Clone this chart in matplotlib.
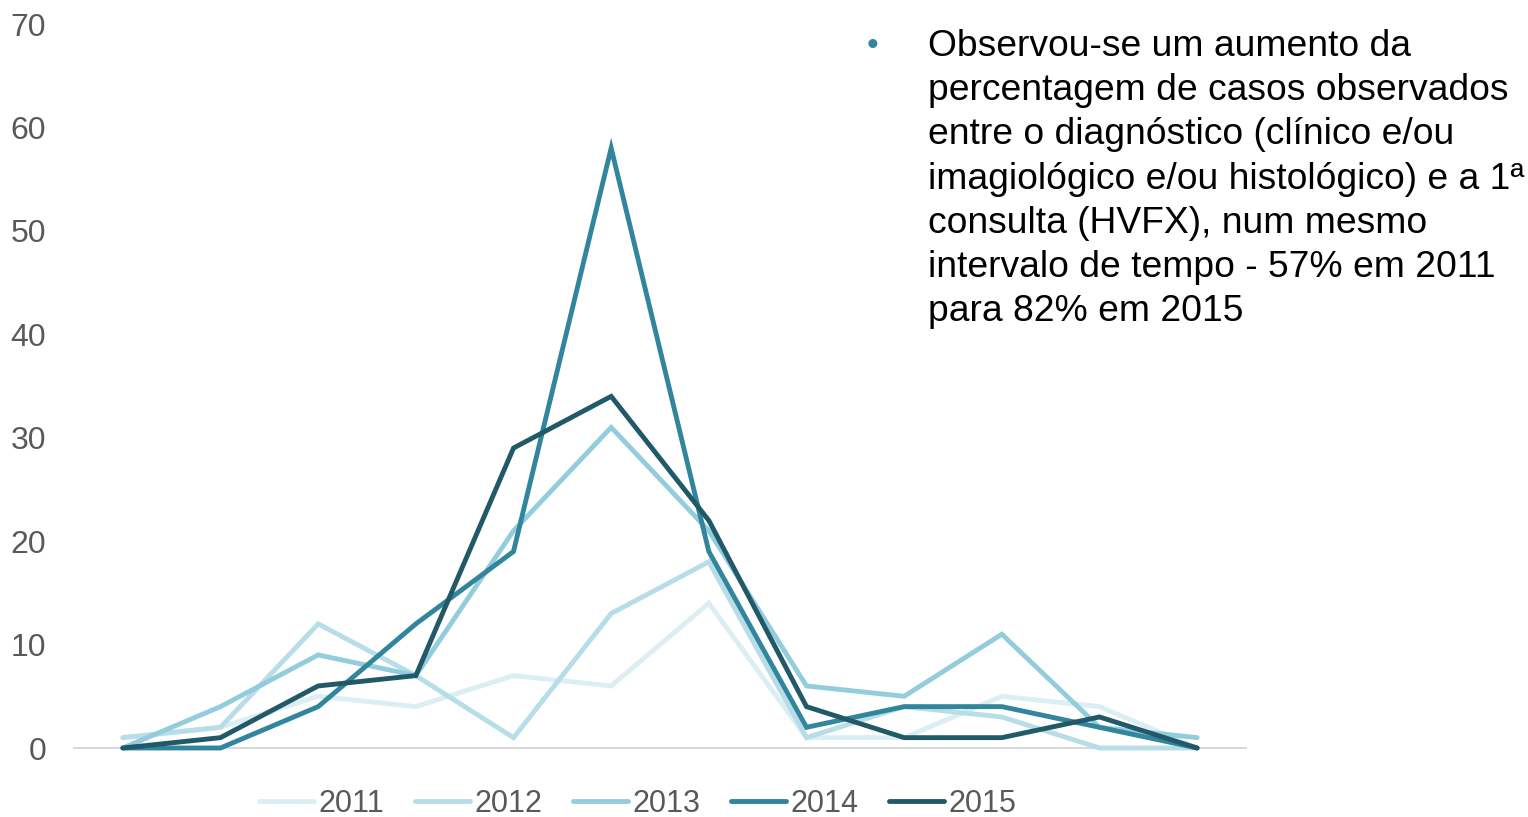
import matplotlib
matplotlib.use("Agg")
import matplotlib.pyplot as plt

categories = list(range(12))
years = ["2011", "2012", "2013", "2014", "2015"]
v2011 = [1, 2, 5, 4, 7, 6, 14, 1, 1, 5, 4, 0]
v2012 = [1, 2, 12, 7, 1, 13, 18, 1, 4, 3, 0, 0]
v2013 = [0, 4, 9, 7, 21, 31, 21, 6, 5, 11, 2, 1]
v2014 = [0, 0, 4, 12, 19, 58, 19, 2, 4, 4, 2, 0]
v2015 = [0, 1, 6, 7, 29, 34, 22, 4, 1, 1, 3, 0]
series = [v2011, v2012, v2013, v2014, v2015]
colors = ["#DBEEF4", "#B7DDE8", "#93CDDD", "#31859C", "#215968"]
yticks = [0, 10, 20, 30, 40, 50, 60, 70]

note = ("Observou-se um aumento da\n"
        "percentagem de casos observados\n"
        "entre o diagnóstico (clínico e/ou\n"
        "imagiológico e/ou histológico) e a 1ª\n"
        "consulta (HVFX), num mesmo\n"
        "intervalo de tempo - 57% em 2011\n"
        "para 82% em 2015")

plt.rcParams['font.family'] = ['Liberation Sans', 'DejaVu Sans']

W, H = 1528, 817
fig = plt.figure(figsize=(W / 100, H / 100), dpi=100)
left, right, bottom, top = 74, 1246, 748, 24
ax = fig.add_axes([left / W, 1 - bottom / H, (right - left) / W, (bottom - top) / H])

for yr, vals, c in zip(years, series, colors):
    ax.plot(categories, vals, color=c, lw=3.5, label=yr, solid_capstyle='round',
            solid_joinstyle='miter', clip_on=False)

ax.set_xlim(-0.5, 11.5)
ax.set_ylim(0, 70)
ax.set_yticks(yticks)
ax.set_xticks([])
ax.tick_params(axis='y', length=0, pad=20, labelsize=23, labelcolor='#595959')
for s in ['top', 'right', 'left']:
    ax.spines[s].set_visible(False)
ax.spines['bottom'].set_color('#D9D9D9')
ax.spines['bottom'].set_linewidth(1.5)
ax.spines['bottom'].set_zorder(0)

leg = fig.legend(loc='center', bbox_to_anchor=(638 / W, 1 - 804 / H), ncol=5,
                 frameon=False, fontsize=22, handlelength=1.8, handletextpad=0.15,
                 columnspacing=1.0, labelcolor='#595959', borderpad=0)

fig.text(928 / W, 1 - 29 / H, note, fontsize=26.8, color='#000000',
         ha='left', va='top', linespacing=1.34)
fig.text(873 / W, 1 - 46 / H, "•", fontsize=24, color='#31859C',
         ha='center', va='center')

fig.savefig("out.png", dpi=100)
